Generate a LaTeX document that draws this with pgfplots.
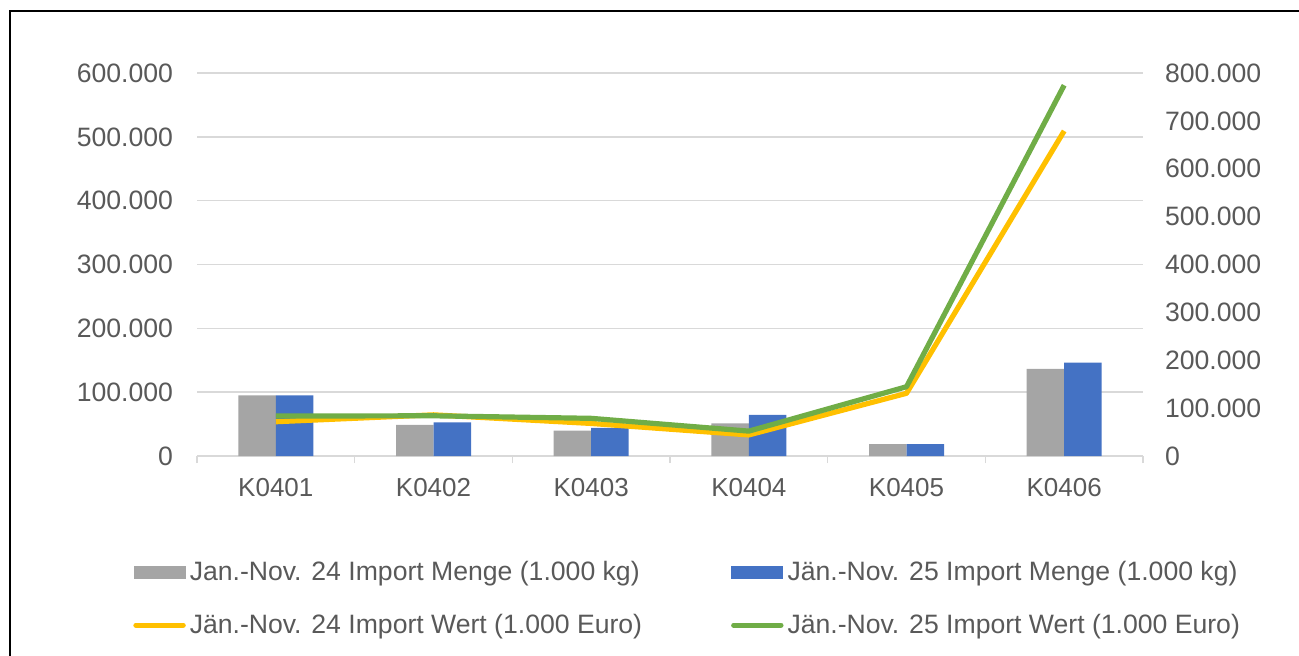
\documentclass[border=0pt]{standalone}
\usepackage{fontspec}
\setmainfont{Liberation Sans}
\usepackage{pgfplots}
\pgfplotsset{compat=1.18}
\definecolor{txt}{RGB}{89,89,89}
\definecolor{grd}{RGB}{217,217,217}
\definecolor{barA}{RGB}{165,165,165}
\definecolor{barB}{RGB}{68,114,196}
\definecolor{lnA}{RGB}{255,192,0}
\definecolor{lnB}{RGB}{112,173,71}
\newcommand{\lblfont}{\fontsize{13.3}{16}\selectfont}
\newcommand{\xlblfont}{\fontsize{13}{15.6}\selectfont}
\pgfplotsset{
  common/.style={
    at={(98.5pt,99.5pt)}, anchor=south west,
    scale only axis, width=473pt, height=191.5pt,
    xmin=-0.5, xmax=5.5,
    major tick length=0pt,
    scaled y ticks=false,
    /pgf/number format/.cd, fixed, 1000 sep={.}, assume math mode=true, /pgfplots/.cd,
    tick label style={font=\lblfont, text=txt},
  },
  barleg/.style={legend image code/.code={\fill[##1, draw=none] (0pt,-3.3pt) rectangle (26pt,3.3pt);}},
  lineleg/.style={legend image code/.code={\draw[##1, line cap=round] (1.2pt,0pt) -- (24.8pt,0pt);}},
}
\begin{document}
\begin{tikzpicture}
\useasboundingbox (0,0) rectangle (649.5pt,327.5pt);
\begin{scope}
\clip (0,0) rectangle (649.5pt,327.5pt);
\draw[black, line width=0.8pt] (5pt,-20pt) -- (5pt,322pt) -- (680pt,322pt);
\end{scope}
\begin{axis}[common,
  ymin=0, ymax=600000,
  ybar=0pt, bar width=18.75pt,
  axis x line*=bottom, axis y line*=left,
  y axis line style={draw=none},
  x axis line style={grd, line width=0.75pt},
  ymajorgrids, grid style={grd, line width=0.75pt},
  ytick={0,100000,...,600000},
  yticklabel style={xshift=-8.5pt},
  xtick={0,...,5},
  xticklabels={K0401,K0402,K0403,K0404,K0405,K0406},
  xticklabel style={yshift=-7.5pt, font=\xlblfont},
  extra x ticks={-0.5,0.5,...,5.5},
  extra x tick labels={},
  extra x tick style={major tick length=3.5pt, tick align=outside, xmajorgrids=false,
     tick style={grd, line width=0.75pt}},
]
\addplot[fill=barA, draw=none] coordinates {(0,95000) (1,48600) (2,39700) (3,51200) (4,18800) (5,136400)};
\addplot[fill=barB, draw=none] coordinates {(0,95000) (1,52800) (2,43900) (3,64300) (4,18800) (5,146300)};
\end{axis}
\begin{axis}[common,
  ymin=0, ymax=800000,
  axis x line=none, axis y line*=right,
  y axis line style={draw=none},
  ytick={0,100000,...,800000},
  yticklabel style={xshift=7.5pt},
  legend columns=2,
  legend style={at={(-0.0677,-0.2645)}, anchor=north west, draw=none, fill=none,
    inner sep=0pt, font=\lblfont, text=txt, cells={anchor=west},
    /tikz/every even column/.append style={column sep=42.5pt},
    /tikz/every odd column/.append style={column sep=0pt},
    row sep=11pt},
]
\addlegendimage{barleg, fill=barA}
\addlegendentry{Jan.-Nov. 24 Import Menge (1.000 kg)}
\addlegendimage{barleg, fill=barB}
\addlegendentry{Jän.-Nov. 25 Import Menge (1.000 kg)}
\addplot[lnA, line width=2.6pt, line join=round, lineleg] coordinates {(0,71600) (1,86000) (2,68000) (3,44000) (4,131000) (5,679000)};
\addlegendentry{Jän.-Nov. 24 Import Wert (1.000 Euro)}
\addplot[lnB, line width=2.6pt, line join=round, lineleg] coordinates {(0,83500) (1,84000) (2,78700) (3,52000) (4,144700) (5,774500)};
\addlegendentry{Jän.-Nov. 25 Import Wert (1.000 Euro)}
\end{axis}
\end{tikzpicture}
\end{document}
